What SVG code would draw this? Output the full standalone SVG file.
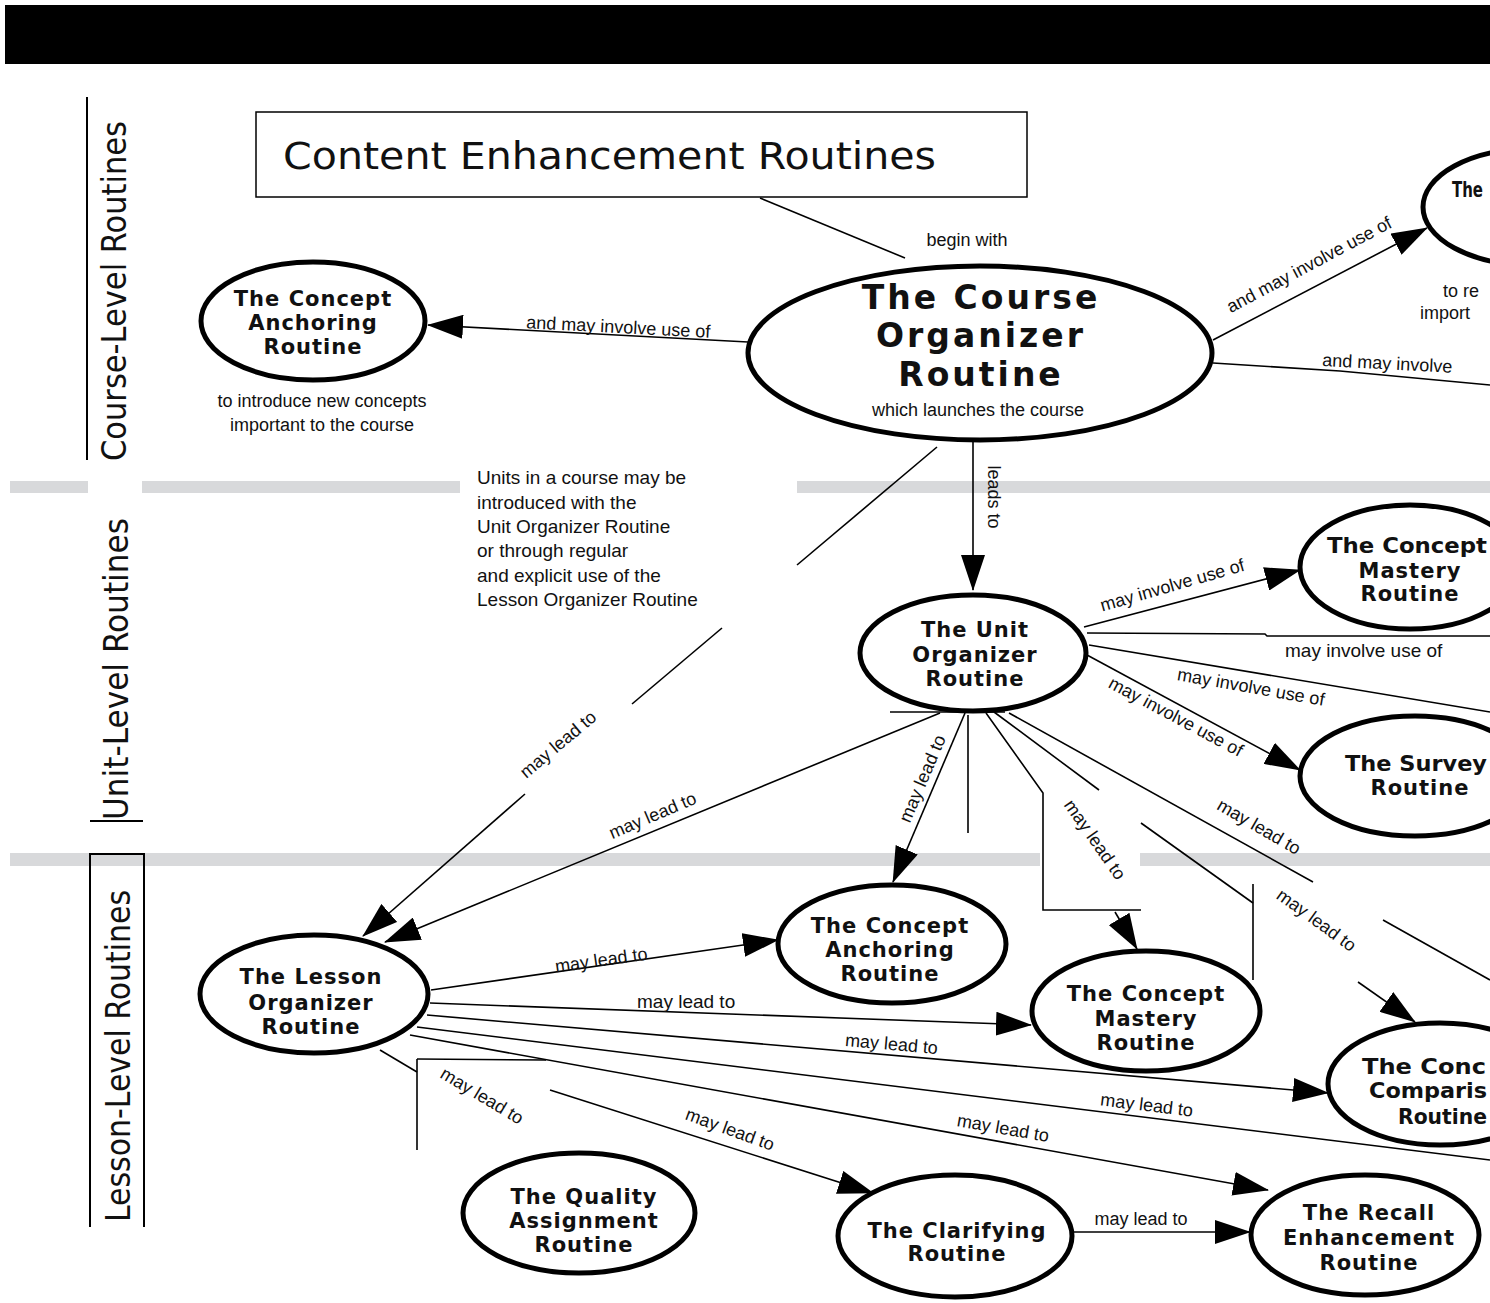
<svg xmlns="http://www.w3.org/2000/svg" width="1490" height="1303" viewBox="0 0 1490 1303">
<defs>
<marker id="ah" viewBox="0 0 36 24" refX="35" refY="12" markerWidth="36" markerHeight="24" markerUnits="userSpaceOnUse" orient="auto">
<path d="M0,0 L36,12 L0,24 z" fill="#000"/>
</marker>
<style>
.node ellipse{fill:#fff;stroke:#000;stroke-width:5}
.nt{font-family:"DejaVu Sans",sans-serif;font-weight:bold;font-size:21px;text-anchor:middle;letter-spacing:1px;fill:#111}
.big{font-family:"DejaVu Sans",sans-serif;font-weight:bold;font-size:33px;text-anchor:middle;letter-spacing:3px;fill:#111}
.el{font-family:"Liberation Sans",Arial,sans-serif;font-size:18px;fill:#111;text-anchor:middle}
.plain{font-family:"Liberation Sans",Arial,sans-serif;font-size:19px;fill:#111}
.side{font-family:"DejaVu Sans Condensed","DejaVu Sans",sans-serif;font-size:34px;fill:#111;text-anchor:middle}
.ln{stroke:#000;stroke-width:1.6;fill:none}
.lna{stroke:#000;stroke-width:1.6;fill:none;marker-end:url(#ah)}
.band{fill:#d8d9db}
</style>
</defs>
<rect x="0" y="0" width="1490" height="1303" fill="#fff"/>
<rect x="5" y="5" width="1485" height="59" fill="#000"/>

<g id="bands">
<rect class="band" x="10" y="481" width="78" height="12"/>
<rect class="band" x="142" y="481" width="318" height="12"/>
<rect class="band" x="797" y="481" width="693" height="12"/>
<rect class="band" x="10" y="853" width="1030" height="13"/>
<rect class="band" x="1140" y="853" width="350" height="13"/>
</g>

<g id="side-labels">
<line x1="87" y1="97" x2="87" y2="460" stroke="#000" stroke-width="2"/>
<text class="side" transform="translate(126,291) rotate(-90)" textLength="340" lengthAdjust="spacingAndGlyphs">Course-Level Routines</text>
<line x1="90" y1="821" x2="143" y2="821" stroke="#000" stroke-width="2"/>
<text class="side" transform="translate(128,669) rotate(-90)" textLength="302" lengthAdjust="spacingAndGlyphs">Unit-Level Routines</text>
<path d="M90,1227 V854 H144 V1227" fill="none" stroke="#000" stroke-width="2"/>
<text class="side" transform="translate(130,1056) rotate(-90)" textLength="332" lengthAdjust="spacingAndGlyphs">Lesson-Level Routines</text>
</g>

<g id="title">
<rect x="256" y="112" width="771" height="85" fill="#fff" stroke="#000" stroke-width="1.5"/>
<text x="283" y="169" font-family="DejaVu Sans,sans-serif" font-size="37" fill="#111" textLength="653" lengthAdjust="spacingAndGlyphs">Content Enhancement Routines</text>
</g>

<g id="connectors">
<line class="ln" x1="760" y1="198" x2="905" y2="258"/>
<text class="el" x="967" y="246">begin with</text>

<line class="lna" x1="748" y1="342" x2="428" y2="325"/>
<text class="el" transform="translate(618,333) rotate(3)">and may involve use of</text>

<line class="lna" x1="1213" y1="340" x2="1427" y2="228"/>
<text class="el" transform="translate(1312,270) rotate(-28)">and may involve use of</text>

<polyline class="ln" points="1213,363 1340,371 1490,385"/>
<text class="el" transform="translate(1322,366) rotate(3)" style="text-anchor:start">and may involve</text>

<line class="lna" x1="973" y1="441" x2="973" y2="590"/>
<text class="el" transform="translate(988,497) rotate(90)">leads to</text>

<line class="ln" x1="937" y1="447" x2="797" y2="565"/>
<line class="ln" x1="722" y1="628" x2="632" y2="704"/>
<line class="lna" x1="525" y1="794" x2="363" y2="936"/>
<text class="el" transform="translate(562,749) rotate(-40)">may lead to</text>

<line class="lna" x1="940" y1="713" x2="385" y2="942"/>
<text class="el" transform="translate(655,821) rotate(-23)">may lead to</text>

<line class="ln" x1="890" y1="712" x2="1005" y2="712"/>
<line class="lna" x1="965" y1="713" x2="893" y2="882"/>
<text class="el" transform="translate(928,781) rotate(-67)">may lead to</text>
<line class="ln" x1="968" y1="715" x2="968" y2="833"/>

<polyline class="ln" points="986,713 1043,793 1043,910 1141,910"/>
<line class="lna" x1="1115" y1="912" x2="1137" y2="949"/>
<text class="el" transform="translate(1090,843) rotate(55)">may lead to</text>

<line class="ln" x1="994" y1="712" x2="1099" y2="790"/>
<line class="ln" x1="1141" y1="823" x2="1253" y2="903"/>
<line class="ln" x1="1253" y1="884" x2="1253" y2="980"/>
<line class="lna" x1="1358" y1="982" x2="1415" y2="1022"/>
<text class="el" transform="translate(1313,925) rotate(36)">may lead to</text>

<line class="ln" x1="1009" y1="713" x2="1313" y2="882"/>
<line class="ln" x1="1383" y1="920" x2="1490" y2="980"/>
<text class="el" transform="translate(1256,832) rotate(30)">may lead to</text>

<line class="lna" x1="1084" y1="627" x2="1300" y2="570"/>
<text class="el" transform="translate(1174,591) rotate(-16)">may involve use of</text>

<polyline class="ln" points="1087,633 1265,634 1267,636 1490,636"/>
<text class="plain" x="1285" y="657">may involve use of</text>

<line class="ln" x1="1089" y1="645" x2="1490" y2="712"/>
<text class="el" transform="translate(1250,693) rotate(10)">may involve use of</text>

<line class="lna" x1="1087" y1="655" x2="1300" y2="770"/>
<text class="el" transform="translate(1173,722) rotate(28)">may involve use of</text>

<line class="lna" x1="431" y1="990" x2="778" y2="940"/>
<text class="el" transform="translate(602,966) rotate(-8)">may lead to</text>

<line class="lna" x1="430" y1="1003" x2="1031" y2="1025"/>
<text class="plain" x="637" y="1008">may lead to</text>

<line class="lna" x1="427" y1="1015" x2="1328" y2="1093"/>
<text class="el" transform="translate(891,1050) rotate(5)">may lead to</text>

<line class="ln" x1="417" y1="1027" x2="1490" y2="1160"/>
<text class="el" transform="translate(1146,1111) rotate(7)">may lead to</text>

<line class="lna" x1="410" y1="1035" x2="1268" y2="1190"/>
<text class="el" transform="translate(1002,1134) rotate(10)">may lead to</text>

<line class="ln" x1="380" y1="1050" x2="417" y2="1072"/>
<line class="ln" x1="417" y1="1059" x2="417" y2="1150"/>
<line class="ln" x1="417" y1="1059" x2="546" y2="1060"/>
<text class="el" transform="translate(479,1101) rotate(31)">may lead to</text>

<line class="lna" x1="550" y1="1090" x2="873" y2="1193"/>
<text class="el" transform="translate(728,1135) rotate(20)">may lead to</text>

<line class="lna" x1="1072" y1="1232" x2="1250" y2="1232"/>
<text class="el" x="1141" y="1225">may lead to</text>
</g>

<g id="course-organizer" class="node">
<ellipse cx="980" cy="353" rx="232" ry="87"/>
<text class="big" x="981" y="309">The Course</text>
<text class="big" x="981" y="347">Organizer</text>
<text class="big" x="981" y="386">Routine</text>
<text class="el" x="978" y="416" font-size="19">which launches the course</text>
</g>

<g id="concept-anchoring-course" class="node">
<ellipse cx="313" cy="321" rx="112" ry="59"/>
<text class="nt" x="313" y="306">The Concept</text>
<text class="nt" x="313" y="330">Anchoring</text>
<text class="nt" x="313" y="354">Routine</text>
<text class="el" x="322" y="407" font-size="19">to introduce new concepts</text>
<text class="el" x="322" y="431" font-size="19">important to the course</text>
</g>

<g id="top-right-node" class="node">
<ellipse cx="1530" cy="207" rx="107" ry="58"/>
<text class="nt" x="1452" y="197" style="text-anchor:start;letter-spacing:0" textLength="31" lengthAdjust="spacingAndGlyphs">The</text>
<text class="el" x="1443" y="297" font-size="19" style="text-anchor:start">to re</text>
<text class="el" x="1420" y="319" font-size="19" style="text-anchor:start">import</text>
</g>

<g id="units-note">
<text class="plain" x="477" y="484">Units in a course may be</text>
<text class="plain" x="477" y="509">introduced with the</text>
<text class="plain" x="477" y="533">Unit Organizer Routine</text>
<text class="plain" x="477" y="557">or through regular</text>
<text class="plain" x="477" y="582">and explicit use of the</text>
<text class="plain" x="477" y="606">Lesson Organizer Routine</text>
</g>

<g id="unit-organizer" class="node">
<ellipse cx="973" cy="653" rx="113" ry="58"/>
<text class="nt" x="975" y="637">The Unit</text>
<text class="nt" x="975" y="662">Organizer</text>
<text class="nt" x="975" y="686">Routine</text>
</g>

<g id="concept-mastery-unit" class="node">
<ellipse cx="1410" cy="567" rx="110" ry="62"/>
<text class="nt" x="1327" y="553" style="text-anchor:start;letter-spacing:0" textLength="160" lengthAdjust="spacingAndGlyphs">The Concept</text>
<text class="nt" x="1410" y="578">Mastery</text>
<text class="nt" x="1410" y="601">Routine</text>
</g>

<g id="survey" class="node">
<ellipse cx="1415" cy="776" rx="115" ry="60"/>
<text class="nt" x="1345" y="771" style="text-anchor:start;letter-spacing:0" textLength="142" lengthAdjust="spacingAndGlyphs">The Survey</text>
<text class="nt" x="1420" y="795">Routine</text>
</g>

<g id="lesson-organizer" class="node">
<ellipse cx="314" cy="994" rx="114" ry="59"/>
<text class="nt" x="311" y="984">The Lesson</text>
<text class="nt" x="311" y="1010">Organizer</text>
<text class="nt" x="311" y="1034">Routine</text>
</g>

<g id="concept-anchoring-lesson" class="node">
<ellipse cx="892" cy="944" rx="114" ry="59"/>
<text class="nt" x="890" y="933">The Concept</text>
<text class="nt" x="890" y="957">Anchoring</text>
<text class="nt" x="890" y="981">Routine</text>
</g>

<g id="concept-mastery-lesson" class="node">
<ellipse cx="1146" cy="1011" rx="114" ry="60"/>
<text class="nt" x="1146" y="1001">The Concept</text>
<text class="nt" x="1146" y="1026">Mastery</text>
<text class="nt" x="1146" y="1050">Routine</text>
</g>

<g id="concept-comparison" class="node">
<ellipse cx="1440" cy="1084" rx="112" ry="61"/>
<text class="nt" x="1362" y="1074" style="text-anchor:start;letter-spacing:0" textLength="124" lengthAdjust="spacingAndGlyphs">The Conc</text>
<text class="nt" x="1369" y="1098" style="text-anchor:start;letter-spacing:0" textLength="118" lengthAdjust="spacingAndGlyphs">Comparis</text>
<text class="nt" x="1398" y="1124" style="text-anchor:start;letter-spacing:0" textLength="89" lengthAdjust="spacingAndGlyphs">Routine</text>
</g>

<g id="quality-assignment" class="node">
<ellipse cx="579" cy="1213" rx="116" ry="60"/>
<text class="nt" x="584" y="1204">The Quality</text>
<text class="nt" x="584" y="1228">Assignment</text>
<text class="nt" x="584" y="1252">Routine</text>
</g>

<g id="clarifying" class="node">
<ellipse cx="955" cy="1236" rx="117" ry="61"/>
<text class="nt" x="957" y="1238">The Clarifying</text>
<text class="nt" x="957" y="1261">Routine</text>
</g>

<g id="recall-enhancement" class="node">
<ellipse cx="1365" cy="1235" rx="114" ry="60"/>
<text class="nt" x="1369" y="1220">The Recall</text>
<text class="nt" x="1369" y="1245">Enhancement</text>
<text class="nt" x="1369" y="1270">Routine</text>
</g>
</svg>
